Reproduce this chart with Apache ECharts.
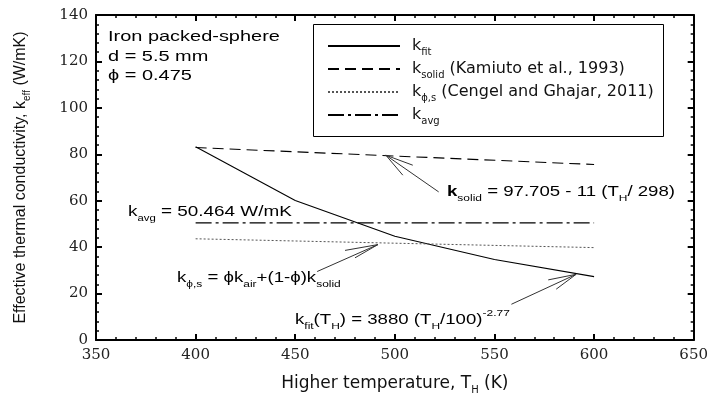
<!DOCTYPE html>
<html>
<head>
<meta charset="utf-8">
<script src="https://cdn.jsdelivr.net/npm/echarts@6/dist/echarts.min.js"></script>
<style>
  html, body { margin: 0; padding: 0; background: #fff; }
  #main { width: 711px; height: 400px; }
</style>
</head>
<body>
<div id="main"></div>
<script>
// temperatures (K) and conductivities (W/mK)
const tFit = [400, 450, 500, 550, 600];
const kFit = [83.2, 60.1, 44.7, 34.7, 27.3];
const tLine = [400, 600];
const kSolid = [82.9, 75.6];
const kPhi = [43.6, 39.8];
const kAvg = [50.46, 50.46];

const xTicks = { min: 350, max: 650, interval: 50 };
const yTicks = { min: 0, max: 140, interval: 20 };

// arrow annotations in data space: tail, tip and the short fan strokes at the tip
const arrows = [
  { tail: [522, 63.8], tip: [495.5, 79.6], fan: [[509, 75.3], [504, 71.0]] },
  { tail: [461, 29.5], tip: [491.5, 41.1], fan: [[475, 38.6], [480, 35.4]] },
  { tail: [558.5, 15.4], tip: [591, 28.3], fan: [[577, 25.9], [581, 21.9]] }
];

const SANS = '"Liberation Sans", Arial, sans-serif';
const WIDE = '"DejaVu Sans", sans-serif';
const SERIF = '"DejaVu Serif", serif';
const STRETCH = 1.33; // the source figure is stretched sideways

function richStyles(size, family, subSize) {
  family = family || SANS;
  subSize = subSize || 9;
  return {
    n: { fontFamily: family, fontSize: size, lineHeight: 22, color: '#111' },
    b: { fontFamily: family, fontSize: size, lineHeight: 22, color: '#111', fontWeight: 'bold' },
    sub: { fontFamily: family, fontSize: subSize, lineHeight: 10, verticalAlign: 'bottom', color: '#111' },
    sup: { fontFamily: family, fontSize: subSize, lineHeight: 10, verticalAlign: 'top', color: '#111' }
  };
}

function pairs(xs, ys) {
  return xs.map((x, i) => [x, ys[i]]);
}

function arrowLines() {
  const out = [];
  arrows.forEach(a => {
    out.push([{ coord: a.tail }, { coord: a.tip }]);
    a.fan.forEach(f => out.push([{ coord: a.tip }, { coord: f }]));
  });
  return out;
}

function axisCommon(range, showLabel) {
  return {
    type: 'value',
    min: range.min,
    max: range.max,
    interval: range.interval,
    axisLine: { show: true, onZero: false, lineStyle: { color: '#000', width: 2 } },
    axisTick: { show: true, inside: true, length: 6, lineStyle: { color: '#000', width: 2 } },
    minorTick: { show: true, splitNumber: 5, length: 3, lineStyle: { color: '#000', width: 1.5 } },
    splitLine: { show: false },
    axisLabel: {
      show: showLabel,
      fontFamily: SERIF,
      fontSize: 15,
      color: '#222',
      margin: 8
    }
  };
}

function note(x, y, text, size, stretch) {
  return {
    type: 'text',
    x: x,
    y: y,
    scaleX: stretch || STRETCH,
    style: {
      text: text,
      rich: richStyles(size),
      verticalAlign: 'middle',
      align: 'left'
    }
  };
}

const chart = echarts.init(document.getElementById('main'));

const option = {
  animation: false,
  backgroundColor: '#fff',
  grid: { left: 96, right: 15, top: 15, bottom: 58 },
  xAxis: [
    Object.assign(axisCommon(xTicks, true), {
      position: 'bottom',
      name: '{n|Higher temperature, T}{sub|H}{n| (K)}',
      nameLocation: 'middle',
      nameGap: 33,
      nameTextStyle: { rich: richStyles(17, WIDE, 10) }
    }),
    Object.assign(axisCommon(xTicks, false), { position: 'top' })
  ],
  yAxis: [
    Object.assign(axisCommon(yTicks, true), {
      position: 'left',
      name: '{n|Effective thermal conductivity, k}{sub|eff}{n| (W/mK)}',
      nameLocation: 'middle',
      nameGap: 64,
      nameRotate: 90,
      nameTextStyle: { rich: richStyles(16, SANS, 10) }
    }),
    Object.assign(axisCommon(yTicks, false), { position: 'right' })
  ],
  legend: {
    data: ['fit', 'solid', 'phi', 'avg'],
    orient: 'vertical',
    left: 313,
    top: 24,
    padding: [14, 10, 16, 14],
    itemWidth: 72,
    itemHeight: 14,
    itemGap: 4,
    borderWidth: 0,
    selectedMode: false,
    itemStyle: { opacity: 0 },
    textStyle: {
      fontFamily: WIDE,
      fontSize: 16,
      padding: [0, 0, 0, 7],
      rich: richStyles(16, WIDE, 10)
    },
    formatter: function (name) {
      if (name === 'fit') return '{n|k}{sub|fit}';
      if (name === 'solid') return '{n|k}{sub|solid}{n| (Kamiuto et al., 1993)}';
      if (name === 'phi') return '{n|k}{sub|\u03d5,s}{n| (Cengel and Ghajar, 2011)}';
      return '{n|k}{sub|avg}';
    }
  },
  series: [
    {
      name: 'fit', type: 'line', data: pairs(tFit, kFit), symbol: 'none',
      itemStyle: { color: '#000' },
      lineStyle: { color: '#000', width: 1.1, type: 'solid' }
    },
    {
      name: 'solid', type: 'line', data: pairs(tLine, kSolid), symbol: 'none',
      itemStyle: { color: '#000' },
      lineStyle: { color: '#000', width: 1.1, type: [11, 6] }
    },
    {
      name: 'phi', type: 'line', data: pairs(tLine, kPhi), symbol: 'none',
      itemStyle: { color: '#000' },
      lineStyle: { color: '#555', width: 1, type: [2, 2] }
    },
    {
      name: 'avg', type: 'line', data: pairs(tLine, kAvg), symbol: 'none',
      itemStyle: { color: '#000' },
      lineStyle: { color: '#000', width: 1.1, type: [16, 4, 3, 4] }
    },
    {
      name: 'arrows', type: 'line', data: [], symbol: 'none',
      markLine: {
        silent: true,
        symbol: ['none', 'none'],
        label: { show: false },
        lineStyle: { color: '#333', width: 1, type: 'solid' },
        data: arrowLines()
      }
    }
  ],
  graphic: [
    // frame around the legend
    {
      type: 'rect',
      shape: { x: 313.5, y: 24.5, width: 350, height: 112 },
      style: { fill: 'none', stroke: '#000', lineWidth: 1 },
      silent: true
    },
    note(108, 37, '{n|Iron packed-sphere}', 15),
    note(108, 57, '{n|d = 5.5 mm}', 15),
    note(108, 76, '{n|\u03d5 = 0.475}', 15),
    note(128, 212, '{n|k}{sub|avg}{n| = 50.464 W/mK}', 15, 1.26),
    note(447, 192, '{b|k}{sub|solid}{n| = 97.705 - 11 (T}{sub|H}{n|/ 298)}', 14),
    note(177, 278, '{n|k}{sub|\u03d5,s}{n| = \u03d5k}{sub|air}{n|+(1-\u03d5)k}{sub|solid}', 14),
    note(295, 320, '{n|k}{sub|fit}{n|(T}{sub|H}{n|) = 3880 (T}{sub|H}{n|/100)}{sup|-2.77}', 14)
  ]
};

chart.setOption(option);
window.addEventListener('resize', () => { chart.resize(); });
</script>
</body>
</html>
